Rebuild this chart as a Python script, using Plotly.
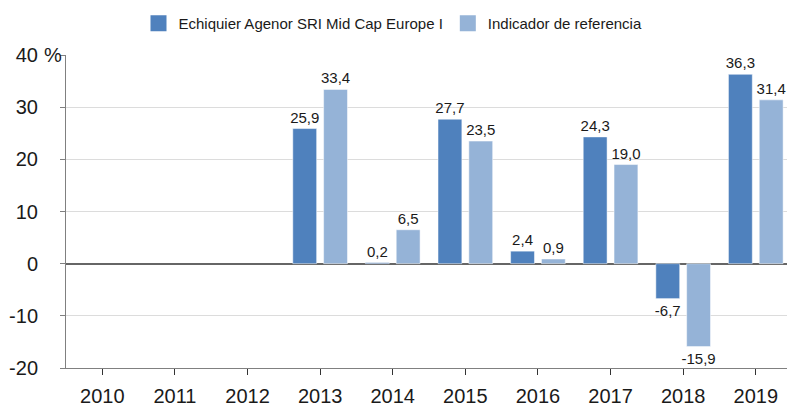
import plotly.graph_objects as go

years = ["2010", "2011", "2012", "2013", "2014", "2015", "2016", "2017", "2018", "2019"]
fund = [None, None, None, 25.9, 0.2, 27.7, 2.4, 24.3, -6.7, 36.3]
bench = [None, None, None, 33.4, 6.5, 23.5, 0.9, 19.0, -15.9, 31.4]
fund_name = "Echiquier Agenor SRI Mid Cap Europe I"
bench_name = "Indicador de referencia"
ytick_vals = [-20, -10, 0, 10, 20, 30, 40]
ytick_text = ["-20", "-10", "0", "10", "20", "30", "40"]
unit_label = "%"

fund_color = "#4f81bd"
bench_color = "#95b3d7"

def fmt(v):
    return "" if v is None else f"{v:.1f}".replace(".", ",")

font = "Liberation Sans, Arial, sans-serif"
fig = go.Figure()
for name, vals, col in [(fund_name, fund, fund_color), (bench_name, bench, bench_color)]:
    fig.add_bar(x=years, y=vals, name=name, showlegend=False,
                marker=dict(color=col, line=dict(color="#ffffff", width=0.5)),
                text=[fmt(v) for v in vals], textposition="outside", cliponaxis=False,
                constraintext="none", textfont=dict(size=15, color="#1a1a1a", family=font))
for name, col in [(fund_name, fund_color), (bench_name, bench_color)]:
    fig.add_scatter(x=[None], y=[None], mode="markers", name=name,
                    marker=dict(symbol="square", size=18, color=col))

fig.update_layout(
    width=787, height=407,
    margin=dict(l=66, r=0, t=55, b=39, autoexpand=False),
    paper_bgcolor="white", plot_bgcolor="white",
    barmode="group", bargap=0.151, bargroupgap=0.226,
    font=dict(family=font, color="#1a1a1a"),
    legend=dict(orientation="h", x=393 / 787, xanchor="center", xref="container",
                y=1 - 7 / 407, yanchor="top", yref="container",
                font=dict(size=15, family=font), itemwidth=30, traceorder="normal"),
    showlegend=True,
    annotations=[dict(x=0, xref="paper", y=40, yref="y", text=unit_label, showarrow=False,
                      xanchor="right", yanchor="middle", xshift=-2, font=dict(size=20, family=font))],
)
fig.update_xaxes(type="category", range=[-0.5, 9.43], showline=True, linecolor="#808080", linewidth=1,
                 ticks="outside", ticklen=6, tickcolor="#333333", tickfont=dict(size=20, family=font),
                 ticklabelstandoff=4, showgrid=False, fixedrange=True)
fig.update_yaxes(range=[-20, 40], tickvals=ytick_vals, ticktext=ytick_text, showline=True,
                 linecolor="#808080", linewidth=1, ticks="outside", ticklen=5, tickcolor="#808080",
                 ticklabelstandoff=18,
                 tickfont=dict(size=20, family=font), gridcolor="#dcdcdc", gridwidth=1,
                 zeroline=True, zerolinecolor="#666666", zerolinewidth=1.5)

fig.write_html("out.html", config={"displayModeBar": False},
               post_script="document.body.style.margin='0';document.body.style.overflow='hidden';")
